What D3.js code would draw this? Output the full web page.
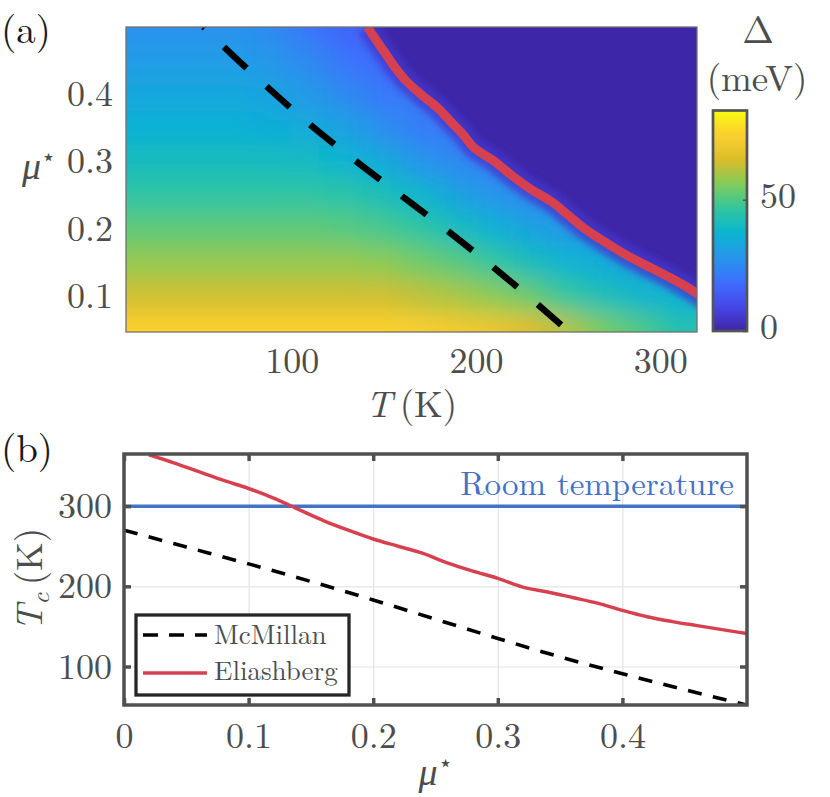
<!DOCTYPE html>
<html lang="en">
<head>
<meta charset="utf-8">
<script src="https://cdn.jsdelivr.net/npm/d3@7"></script>
</head>
<body style="margin:0; background:#fff">
<script>
// ---- data ----
// McMillan Tc (K) vs mu*
var muMcMillan = [0, 0.05, 0.1, 0.15, 0.2, 0.25, 0.3, 0.35, 0.4, 0.45, 0.5];
var tcMcMillan = [270, 249, 228, 206, 183, 159, 135, 112, 91, 71, 52];

// Eliashberg Tc (K) vs mu*
var muEliashberg = [0.02, 0.04, 0.06, 0.08, 0.10, 0.12, 0.14, 0.16, 0.18, 0.20, 0.22, 0.24, 0.26,
                    0.28, 0.30, 0.32, 0.34, 0.36, 0.38, 0.40, 0.42, 0.44, 0.46, 0.48, 0.50];
var tcEliashberg = [364, 354, 343, 332, 322, 310, 296, 282, 270, 259, 250, 241, 229,
                    219, 210, 199, 193, 186, 179, 170, 162, 156, 151, 146, 141];

var roomTemperature = 300;

// gap map Delta (meV): rows = mu*, columns = T (K); 0 = normal state
var mapT  = [10, 30, 50, 70, 90, 110, 130, 150, 170, 190, 210, 230, 250, 270, 290, 310];
var mapMu = [0.05, 0.10, 0.15, 0.20, 0.25, 0.30, 0.35, 0.40, 0.45, 0.50];
var gapMeV = [
    [75, 75, 75, 75, 75, 75, 75, 75, 74, 72, 70, 66, 61, 55, 50, 44],
    [64, 64, 64, 64, 64, 64, 64, 64, 62, 60, 57, 53, 47, 42, 38, 36],
    [58, 58, 58, 58, 58, 58, 58, 57, 54, 51, 47, 41, 37, 34, 31, 0],
    [52, 52, 52, 52, 52, 52, 51, 49, 46, 41, 36, 32, 29, 0, 0, 0],
    [46, 46, 46, 46, 46, 46, 45, 42, 38, 32, 28, 25, 0, 0, 0, 0],
    [41, 41, 41, 41, 41, 40, 37, 34, 28, 25, 22, 0, 0, 0, 0, 0],
    [36, 36, 36, 36, 35, 34, 31, 26, 22, 20, 0, 0, 0, 0, 0, 0],
    [33, 33, 33, 33, 32, 29, 25, 21, 0, 0, 0, 0, 0, 0, 0, 0],
    [30, 30, 30, 30, 28, 25, 20, 17, 0, 0, 0, 0, 0, 0, 0, 0],
    [27, 27, 27, 27, 25, 20, 16, 0, 0, 0, 0, 0, 0, 0, 0, 0]
];

var tickTa  = [100, 200, 300];
var tickMua = [0.1, 0.2, 0.3, 0.4];
var tickGap = [0, 50];
var tickMub = [0, 0.1, 0.2, 0.3, 0.4];
var tickTcb = [100, 200, 300];

// parula(10)
var parulaCol = ["#3e26a8", "#4747eb", "#3e6fff", "#2796eb", "#08b5d0",
                 "#31c69f", "#81cc59", "#dcbd29", "#fccf30", "#f9fb0e"];
var gapMax = 84;

var width = 830, height = 797;
var grey = "#4d4d4d";
var FONT = "'Latin Modern Roman', 'CMU Serif', 'Liberation Serif', serif";

var svg = d3.select("body").append("svg")
    .attr("width", width)
    .attr("height", height)
    .style("font-family", FONT);
var defs = svg.append("defs");

var color = d3.scaleLinear()
    .domain(parulaCol.map(function(c, i) { return i / (parulaCol.length - 1) * gapMax; }))
    .range(parulaCol)
    .clamp(true);

// ================= panel (a) =================
var xA = d3.scaleLinear().domain([10, 320]).range([126, 697]);
var yA = d3.scaleLinear().domain([0.046, 0.5]).range([332, 27]);
var aL = xA.range()[0], aR = xA.range()[1], aT = yA.range()[1], aB = yA.range()[0];

defs.append("clipPath").attr("id", "clipA")
    .append("rect").attr("x", aL).attr("y", aT).attr("width", aR - aL).attr("height", aB - aT);

// region below the Eliashberg Tc line (superconducting)
var scPoly = [[xA(tcEliashberg[tcEliashberg.length - 1]), aT - 60]];
for (var i = muEliashberg.length - 1; i >= 0; i--) {
    scPoly.push([xA(tcEliashberg[i]), yA(muEliashberg[i])]);
}
scPoly.push([xA(tcEliashberg[0]), aB + 60]);
scPoly.push([aL - 60, aB + 60]);
scPoly.push([aL - 60, aT - 60]);
defs.append("clipPath").attr("id", "clipSC")
    .append("path").attr("d", "M" + scPoly.join("L") + "Z");

defs.append("filter").attr("id", "vblur")
    .attr("filterUnits", "userSpaceOnUse")
    .attr("x", 0).attr("y", -100).attr("width", width).attr("height", 600)
    .append("feGaussianBlur").attr("stdDeviation", "0 12");

defs.append("filter").attr("id", "soft")
    .attr("filterUnits", "userSpaceOnUse")
    .attr("x", 0).attr("y", -100).attr("width", width).attr("height", 600)
    .append("feGaussianBlur").attr("stdDeviation", 3);

var gA = svg.append("g").attr("clip-path", "url(#clipA)");

// normal state background (Delta = 0)
gA.append("rect")
    .attr("x", aL).attr("y", aT).attr("width", aR - aL).attr("height", aB - aT)
    .attr("fill", color(0));

var field = gA.append("g").attr("clip-path", "url(#clipSC)")
    .append("g").attr("filter", "url(#vblur)");

mapMu.forEach(function(mu, i) {
    var pts = [];
    mapT.forEach(function(t, j) { if (gapMeV[i][j] > 0) pts.push({t: t, v: gapMeV[i][j]}); });
    var x1 = xA(pts[0].t), x2 = xA(pts[pts.length - 1].t);
    var grad = defs.append("linearGradient").attr("id", "row" + i)
        .attr("gradientUnits", "userSpaceOnUse")
        .attr("x1", x1).attr("x2", x2).attr("y1", 0).attr("y2", 0);
    grad.selectAll("stop").data(pts).enter().append("stop")
        .attr("offset", function(d) { return (xA(d.t) - x1) / (x2 - x1); })
        .attr("stop-color", function(d) { return color(d.v); });
    var yTop = (i === mapMu.length - 1) ? aT - 60 : yA((mu + mapMu[i + 1]) / 2);
    var yBot = (i === 0) ? aB + 60 : yA((mu + mapMu[i - 1]) / 2);
    field.append("rect")
        .attr("x", aL - 60).attr("width", aR - aL + 120)
        .attr("y", yTop - 0.5).attr("height", yBot - yTop + 1)
        .attr("fill", "url(#row" + i + ")");
});

var lineA = function(tc, mu) {
    return d3.line()
        .x(function(d, k) { return xA(tc[k]); })
        .y(function(d, k) { return yA(mu[k]); })
        .curve(d3.curveMonotoneY)(mu);
};

// soft purple edge under the Tc line
gA.append("path")
    .attr("d", lineA(tcEliashberg, muEliashberg))
    .attr("fill", "none").attr("stroke", color(5)).attr("stroke-width", 22)
    .attr("opacity", 0.75).attr("filter", "url(#soft)");

gA.append("path")
    .attr("d", lineA(tcEliashberg, muEliashberg))
    .attr("fill", "none").attr("stroke", "#d6404f").attr("stroke-width", 9);

gA.append("path")
    .attr("d", lineA(tcMcMillan, muMcMillan))
    .attr("fill", "none").attr("stroke", "#000").attr("stroke-width", 6.5)
    .attr("stroke-dasharray", "31,27");

svg.append("rect")
    .attr("x", aL).attr("y", aT).attr("width", aR - aL).attr("height", aB - aT)
    .attr("fill", "none").attr("stroke", "#707070").attr("stroke-width", 1.3);

var axA = svg.append("g").attr("transform", "translate(0," + aB + ")")
    .call(d3.axisBottom(xA).tickValues(tickTa).tickSize(0).tickPadding(15));
var ayA = svg.append("g").attr("transform", "translate(" + aL + ",0)")
    .call(d3.axisLeft(yA).tickValues(tickMua).tickSize(0).tickPadding(13).tickFormat(d3.format(".1f")));

// colorbar
var yC = d3.scaleLinear().domain([0, gapMax]).range([331, 110.5]);
var cbL = 713, cbR = 747;
var cbGrad = defs.append("linearGradient").attr("id", "cbGrad")
    .attr("x1", 0).attr("x2", 0).attr("y1", 1).attr("y2", 0);
cbGrad.selectAll("stop").data(d3.range(0, 1.0001, 0.025)).enter().append("stop")
    .attr("offset", function(d) { return d; })
    .attr("stop-color", function(d) { return color(d * gapMax); });
svg.append("rect")
    .attr("x", cbL).attr("y", yC(gapMax)).attr("width", cbR - cbL).attr("height", yC(0) - yC(gapMax))
    .attr("fill", "url(#cbGrad)").attr("stroke", "#555").attr("stroke-width", 2.7);
var axC = svg.append("g").attr("transform", "translate(" + cbR + ",0)")
    .call(d3.axisRight(yC).tickValues(tickGap).tickSizeInner(-4).tickSizeOuter(0).tickPadding(13));
axC.selectAll("text").attr("dy", "0.22em");

svg.append("text").attr("x", 758).attr("y", 43).attr("text-anchor", "middle")
    .attr("font-size", 38).attr("fill", grey).text("Δ");
svg.append("text").attr("x", 757).attr("y", 91).attr("text-anchor", "middle")
    .attr("font-size", 37).attr("fill", grey).text("(meV)");

// axis labels (a)
var tA = svg.append("text").attr("x", (aL + aR) / 2).attr("y", 417).attr("text-anchor", "middle")
    .attr("font-size", 37).attr("fill", grey);
tA.append("tspan").attr("font-style", "italic").text("T");
tA.append("tspan").text("\u2009(K)");

var muA = svg.append("text").attr("x", 56).attr("y", 179).attr("text-anchor", "end")
    .attr("font-size", 38).attr("fill", grey);
muA.append("tspan").attr("font-style", "italic").text("μ");
muA.append("tspan").attr("font-size", 24).attr("dy", -14).text("⋆");

svg.append("text").attr("x", 1).attr("y", 43).attr("font-size", 39).attr("fill", "#1a1a1a").text("(a)");

// ================= panel (b) =================
var xB = d3.scaleLinear().domain([0, 0.5]).range([124, 747]);
var yB = d3.scaleLinear().domain([52, 365]).range([705, 454]);
var bL = xB.range()[0], bR = xB.range()[1], bT = yB.range()[1], bB = yB.range()[0];

defs.append("clipPath").attr("id", "clipB")
    .append("rect").attr("x", bL).attr("y", bT).attr("width", bR - bL).attr("height", bB - bT);

svg.append("rect").attr("x", bL).attr("y", bT).attr("width", bR - bL).attr("height", bB - bT).attr("fill", "#fff");

// grid
svg.append("g").attr("transform", "translate(0," + bB + ")")
    .call(d3.axisBottom(xB).tickValues([0.1, 0.2, 0.3, 0.4]).tickSize(-(bB - bT)).tickFormat(""))
    .call(function(g) { g.select(".domain").remove(); g.selectAll("line").attr("stroke", "#e3e3e3").attr("stroke-width", 1.2); });
svg.append("g").attr("transform", "translate(" + bL + ",0)")
    .call(d3.axisLeft(yB).tickValues(tickTcb).tickSize(-(bR - bL)).tickFormat(""))
    .call(function(g) { g.select(".domain").remove(); g.selectAll("line").attr("stroke", "#e3e3e3").attr("stroke-width", 1.2); });

var gB = svg.append("g").attr("clip-path", "url(#clipB)");
var lineB = d3.line()
    .x(function(d) { return xB(d[0]); })
    .y(function(d) { return yB(d[1]); })
    .curve(d3.curveMonotoneX);

gB.append("path")
    .attr("d", lineB([[0, roomTemperature], [0.5, roomTemperature]]))
    .attr("fill", "none").attr("stroke", "#4472c4").attr("stroke-width", 3.5);
gB.append("path")
    .attr("d", lineB(muEliashberg.map(function(m, k) { return [m, tcEliashberg[k]]; })))
    .attr("fill", "none").attr("stroke", "#d6404f").attr("stroke-width", 3.5);
gB.append("path")
    .attr("d", lineB(muMcMillan.map(function(m, k) { return [m, tcMcMillan[k]]; })))
    .attr("fill", "none").attr("stroke", "#000").attr("stroke-width", 3.6)
    .attr("stroke-dasharray", "14,11.5");

svg.append("text").attr("x", bR - 13).attr("y", yB(roomTemperature) - 11.5)
    .attr("text-anchor", "end").attr("font-size", 33).attr("fill", "#4472c4")
    .text("Room temperature");

// frame + inward ticks
svg.append("rect").attr("x", bL).attr("y", bT).attr("width", bR - bL).attr("height", bB - bT)
    .attr("fill", "none").attr("stroke", "#505050").attr("stroke-width", 3.5);

function styleAxis(g) {
    g.select(".domain").remove();
    g.selectAll("line").attr("stroke", "#505050").attr("stroke-width", 3.5);
}
var axB = svg.append("g").attr("transform", "translate(0," + bB + ")")
    .call(d3.axisBottom(xB).tickValues(tickMub).tickSizeInner(-7).tickSizeOuter(0).tickPadding(17.5)
        .tickFormat(function(d) { return d === 0 ? "0" : d3.format(".1f")(d); }))
    .call(styleAxis);
svg.append("g").attr("transform", "translate(0," + bT + ")")
    .call(d3.axisTop(xB).tickValues(tickMub).tickSizeInner(-7).tickSizeOuter(0).tickFormat(""))
    .call(styleAxis);
var ayB = svg.append("g").attr("transform", "translate(" + bL + ",0)")
    .call(d3.axisLeft(yB).tickValues(tickTcb).tickSizeInner(-7).tickSizeOuter(0).tickPadding(12))
    .call(styleAxis);
svg.append("g").attr("transform", "translate(" + bR + ",0)")
    .call(d3.axisRight(yB).tickValues(tickTcb).tickSizeInner(-7).tickSizeOuter(0).tickFormat(""))
    .call(styleAxis);

// legend
var lg = svg.append("g").attr("transform", "translate(" + (bL + 12) + "," + (bT + 161) + ")");
lg.append("rect").attr("width", 213).attr("height", 80)
    .attr("fill", "#fff").attr("stroke", "#262626").attr("stroke-width", 3.3);
lg.append("line").attr("x1", 7).attr("x2", 71).attr("y1", 20).attr("y2", 20)
    .attr("stroke", "#000").attr("stroke-width", 3.6).attr("stroke-dasharray", "15,11");
lg.append("line").attr("x1", 7).attr("x2", 71).attr("y1", 58).attr("y2", 58)
    .attr("stroke", "#d6404f").attr("stroke-width", 3.5);
lg.append("text").attr("x", 78).attr("y", 28.5).attr("font-size", 27).attr("fill", grey).text("McMillan");
lg.append("text").attr("x", 78).attr("y", 65).attr("font-size", 27).attr("fill", grey).text("Eliashberg");

// axis labels (b)
var muB = svg.append("text").attr("x", (bL + bR) / 2).attr("y", 785).attr("text-anchor", "middle")
    .attr("font-size", 38).attr("fill", grey);
muB.append("tspan").attr("font-style", "italic").text("μ");
muB.append("tspan").attr("font-size", 24).attr("dy", -14).text("⋆");

var tcB = svg.append("text").attr("transform", "translate(42," + ((bT + bB) / 2) + ") rotate(-90)")
    .attr("text-anchor", "middle").attr("font-size", 37).attr("fill", grey);
tcB.append("tspan").attr("font-style", "italic").text("T");
tcB.append("tspan").attr("font-style", "italic").attr("font-size", 26).attr("dy", 7).text("c");
tcB.append("tspan").attr("dy", -7).text("\u2009(K)");

svg.append("text").attr("x", 1).attr("y", 462).attr("font-size", 39).attr("fill", "#1a1a1a").text("(b)");

// shared tick label style
[axA, ayA, axC, axB, ayB].forEach(function(g) {
    g.select(".domain").remove();
    g.style("font-family", FONT);
    g.selectAll("text").attr("font-size", 36).attr("fill", grey);
});
axC.selectAll("line").attr("stroke", "#555").attr("stroke-width", 1.5);
</script>
</body>
</html>
